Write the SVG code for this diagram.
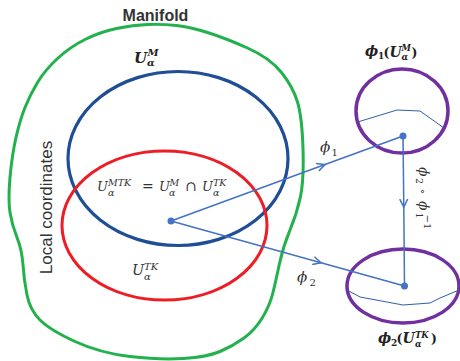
<svg xmlns="http://www.w3.org/2000/svg" width="460" height="361" viewBox="0 0 460 361">
<style>
.m{font-family:"DejaVu Serif","Liberation Serif",serif;font-style:italic;fill:#333}
.u{font-style:normal}
.b{font-weight:bold;fill:#222}
.s{font-family:"Liberation Sans",Arial,sans-serif;fill:#333}
.conn{stroke:#4472c4;stroke-width:1.5;fill:none;marker-mid:url(#chev)}
.thin{stroke:#2e5ea8;stroke-width:1;fill:none}
</style>
<defs>
<marker id="chev" markerUnits="userSpaceOnUse" markerWidth="12" markerHeight="12" viewBox="-10 -6 12 12" refX="0" refY="0" orient="auto">
<path d="M-8,-4 L0,0 L-8,4" fill="none" stroke="#4472c4" stroke-width="1.5"/>
</marker>
</defs>
<rect width="460" height="361" fill="#fff"/>
<g id="manifold">
<path d="M176.5,25.5 Q190,27 207.5,32.5 Q225,38 247.5,48 Q270,58 281.5,72.5 Q293,87 297.5,102 Q302,117 303,148.5 Q304,180 300.5,196.5 Q297,213 290,230 Q283,247 279.5,263.5 Q276,280 273,292.5 Q270,305 262.5,317.5 Q255,330 244,338 Q233,346 220,351.5 Q207,357 183.5,358.5 Q160,360 130,356.5 Q100,353 75,341.5 Q50,330 40,320 Q30,310 27,295 Q24,280 23,265 Q22,250 17,237.5 Q12,225 10,212.5 Q8,200 10,177.5 Q12,155 16,137.5 Q20,120 25,107.5 Q30,95 37.5,82.5 Q45,70 57.5,58.5 Q70,47 85,39.5 Q100,32 116.5,28.5 Q133,25 148,24.5 Q163,24 176.5,25.5 Z" fill="none" stroke="#22b14c" stroke-width="3" stroke-linejoin="round"/>
<text class="s b" x="155.5" y="21" font-size="16" text-anchor="middle">Manifold</text>
<text class="s" transform="translate(52,207.5) rotate(-90)" x="0" y="0" font-size="17" text-anchor="middle">Local coordinates</text>
</g>
<g id="chart-M">
<ellipse cx="178" cy="158.5" rx="110" ry="87" fill="none" stroke="#1f4e96" stroke-width="3.2"/>
<text class="m b" font-size="15"><tspan x="134" y="63">U</tspan><tspan x="147.5" y="56" font-size="10">M</tspan><tspan x="147" y="66" font-size="10">α</tspan></text>
</g>
<g id="chart-TK">
<ellipse cx="164.5" cy="225.5" rx="102.5" ry="74.5" fill="none" stroke="#ee1c24" stroke-width="3"/>
<text class="m" font-size="14.5"><tspan x="132" y="275">U</tspan><tspan x="144" y="269.5" font-size="10">TK</tspan><tspan x="144" y="280" font-size="10">α</tspan></text>
</g>
<g id="intersection-label">
<text class="m" font-size="13"><tspan x="97" y="191">U</tspan><tspan x="108" y="185.5" font-size="9.5">MTK</tspan><tspan x="108" y="196" font-size="9.5">α</tspan><tspan class="u" x="142" y="191" font-size="14">=</tspan><tspan x="159" y="191">U</tspan><tspan x="169.5" y="185.5" font-size="9.5">M</tspan><tspan x="169" y="196" font-size="9.5">α</tspan><tspan class="u" x="185" y="191" font-size="14">∩</tspan><tspan x="202" y="191">U</tspan><tspan x="213" y="185.5" font-size="9.5">TK</tspan><tspan x="213" y="196" font-size="9.5">α</tspan></text>
</g>
<g id="image1">
<ellipse cx="402" cy="111" rx="46" ry="42" fill="none" stroke="#7030a0" stroke-width="3.5"/>
<path class="thin" d="M357.6,122 L397,110 L420,111 L444,128"/>
<text class="m b" font-size="14"><tspan x="365" y="56">ϕ</tspan><tspan class="u" x="378" y="58.5" font-size="9">1</tspan><tspan class="u" x="383.5" y="57" font-size="12.5">(</tspan><tspan x="389.5" y="57">U</tspan><tspan x="401.5" y="51" font-size="8.5">M</tspan><tspan x="401.5" y="59.5" font-size="8.5">α</tspan><tspan class="u" x="411.5" y="57" font-size="12.5">)</tspan></text>
</g>
<g id="image2">
<ellipse cx="403" cy="286" rx="56" ry="37" fill="none" stroke="#7030a0" stroke-width="3.5"/>
<path class="thin" d="M347,290 L360,297 L403,305 L430,303 L440,298 L459,290"/>
<text class="m b" font-size="14"><tspan x="378" y="343">ϕ</tspan><tspan class="u" x="391" y="346" font-size="9">2</tspan><tspan class="u" x="396.5" y="343" font-size="12.5">(</tspan><tspan x="402.5" y="343">U</tspan><tspan x="415" y="338" font-size="8.5">TK</tspan><tspan x="415" y="347" font-size="8.5">α</tspan><tspan class="u" x="431" y="343" font-size="12.5">)</tspan></text>
</g>
<g id="connectors">
<polyline class="conn" points="171,221 325,164.5 403,136"/>
<polyline class="conn" points="171,221 321,262.7 404.5,286"/>
<polyline class="conn" points="403,136 403.8,207 404.5,286"/>
<circle cx="171" cy="221" r="3.5" fill="#4472c4"/>
<circle cx="403" cy="136" r="3.5" fill="#4472c4"/>
<circle cx="404.5" cy="286" r="3.5" fill="#4472c4"/>
<text class="m" font-size="15"><tspan x="320" y="152">ϕ</tspan><tspan class="u" x="331.5" y="156" font-size="10">1</tspan></text>
<text class="m" font-size="15"><tspan x="297" y="282">ϕ</tspan><tspan class="u" x="309.5" y="286" font-size="10">2</tspan></text>
<text class="m" transform="translate(419,166) rotate(90)" font-size="14"><tspan x="1" y="0">ϕ</tspan><tspan class="u" x="12" y="3" font-size="9.5">2</tspan><tspan class="u" x="23" y="0" font-size="11">∘</tspan><tspan x="35" y="0">ϕ</tspan><tspan class="u" x="46.5" y="3" font-size="9.5">1</tspan><tspan class="u" x="48.5" y="-5" font-size="10">−1</tspan></text>
</g>
</svg>
